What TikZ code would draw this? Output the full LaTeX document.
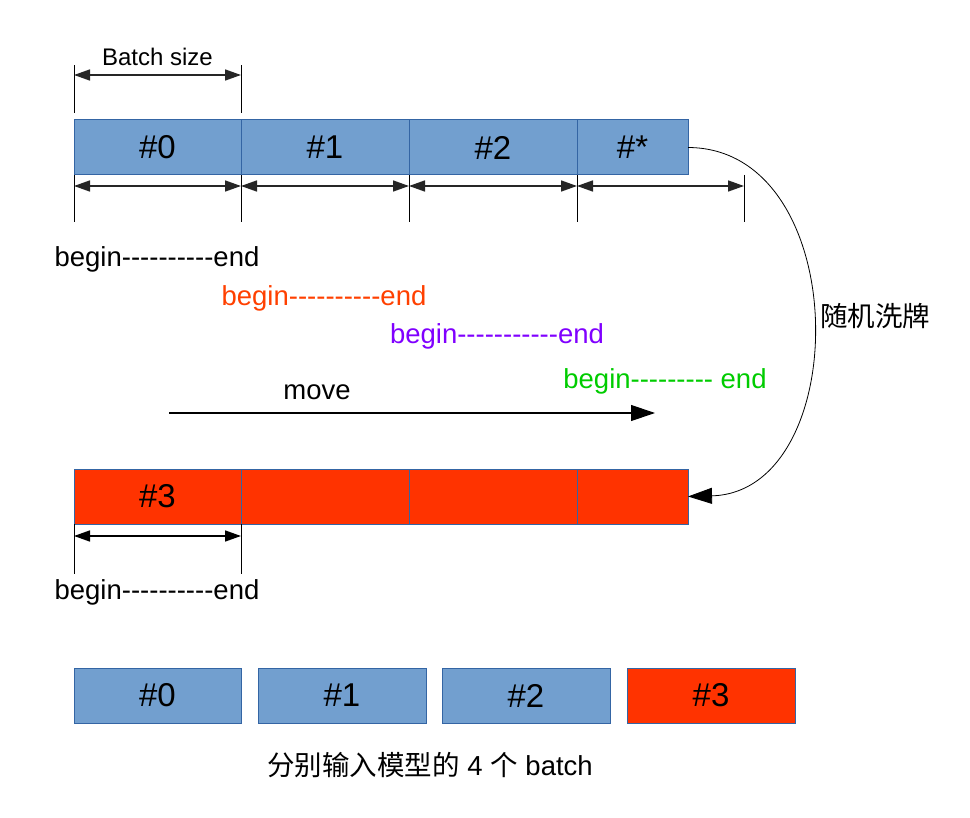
\documentclass[tikz,border=0pt]{standalone}
\usepackage{fontspec}
\setmainfont{Liberation Sans}
\newfontfamily\cjk{Noto Sans CJK SC}
\usetikzlibrary{arrows.meta}
\definecolor{segblue}{RGB}{114,159,207}
\definecolor{segedge}{RGB}{52,101,164}
\definecolor{segred}{RGB}{255,51,0}
\definecolor{txtred}{RGB}{255,64,0}
\definecolor{txtpurple}{RGB}{128,0,255}
\definecolor{txtgreen}{RGB}{0,204,0}
\newcommand{\bigtext}{\fontsize{33}{38}\selectfont}
\newcommand{\midtext}{\fontsize{27.5}{32}\selectfont}
\newcommand{\smalltext}{\fontsize{24}{28}\selectfont}
\newcommand{\hy}{-\kern0pt}% plain hyphen, no dash ligature
\newcommand{\tenhy}{\hy\hy\hy\hy\hy\hy\hy\hy\hy\hy}
\tikzset{
  seg/.style={draw=segedge,line width=1pt,inner sep=0pt,outer sep=0pt,minimum height=55pt,font=\bigtext},
  blueseg/.style={seg,fill=segblue},
  redseg/.style={seg,fill=segred},
  tick/.style={line width=1pt},
  dimarrow/.style={{Triangle[length=16pt,width=11pt]}-{Triangle[length=16pt,width=11pt]},line width=1.6pt,draw=black!85},
  bigarrow/.style={-{Triangle[length=24pt,width=16pt]}},
  rangetext/.style={font=\midtext,inner sep=0pt},
}

\begin{document}
\begin{tikzpicture}[x=1pt,y=-1pt]
\useasboundingbox (0,0) rectangle (970,818);

% Top row: batches of the data set
\node[blueseg,minimum width=167pt] (t0) at (157.5,147.5) {\#0};
\node[blueseg,minimum width=168pt] (t1) at (325,147.5) {\#1};
\node[blueseg,minimum width=168pt] (t2) at (493,147.5) {\#2};
\node[blueseg,minimum width=111pt] (t3) at (632.5,147.5) {\#*};

% Batch size
\draw[tick] (t0.north west) ++(0,-7) -- ++(0,-48);
\draw[tick] (t0.north east) ++(0,-7) -- ++(0,-48);
\coordinate (bs0) at (74,75);
\coordinate (bs1) at (241,75);
\draw[dimarrow] (bs0) -- (bs1);
\node[font=\smalltext,inner sep=0pt] (bsize) at (157.5,57) {Batch size};

% Ticks and sizes under the top row
\foreach \i in {0,...,3} \draw[tick] (t\i.south west) -- ++(0,47);
\coordinate (tend) at (744,175);
\draw[tick] (tend) -- ++(0,47);
\coordinate (d0) at (74,186);
\coordinate (d1) at (241,186);
\coordinate (d2) at (409,186);
\coordinate (d3) at (577,186);
\coordinate (d4) at (744,186);
\draw[dimarrow] (d0) -- (d1);
\draw[dimarrow] (d1) -- (d2);
\draw[dimarrow] (d2) -- (d3);
\draw[dimarrow] (d3) -- (d4);

% Ranges
\node[rangetext] (rg0) at (157,259) {begin\tenhy end};
\node[rangetext,text=txtred] (rg1) at (324,298) {begin\tenhy end};
\node[rangetext,text=txtpurple] (rg2) at (497,336) {begin\tenhy\hy end};
\node[rangetext,text=txtgreen] (rg3) at (665,381) {begin\hy\hy\hy\hy\hy\hy\hy\hy\hy{} end};

% Move
\coordinate (mv0) at (169,413);
\coordinate (mv1) at (655,413);
\draw[bigarrow,line width=1.2pt] (mv0) -- (mv1);
\node[rangetext] (movetxt) at (317,392) {move};

% Red row after shuffle
\node[redseg,minimum width=167pt] (r0) at (157.5,496.5) {\#3};
\node[redseg,minimum width=168pt] (r1) at (325,496.5) {};
\node[redseg,minimum width=168pt] (r2) at (493,496.5) {};
\node[redseg,minimum width=111pt] (r3) at (632.5,496.5) {};
\draw[tick] (r0.south west) -- ++(0,50);
\draw[tick] (r0.south east) -- ++(0,50);
\coordinate (e0) at (74,536);
\coordinate (e1) at (241,536);
\draw[dimarrow,draw=black] (e0) -- (e1);
\node[rangetext] (rg4) at (157,592) {begin\tenhy end};

% Shuffle
\draw[bigarrow,line width=0.8pt] (t3.east) .. controls (854,148) and (854,492) .. (r3.east);
\node[font=\midtext\cjk,inner sep=0pt] (shuf) at (875,316) {随机洗牌};

% Batches fed to the model
\node[blueseg,minimum width=167pt] (b0) at (157.5,695.5) {\#0};
\node[blueseg,minimum width=168pt] (b1) at (342,695.5) {\#1};
\node[blueseg,minimum width=168pt] (b2) at (526,695.5) {\#2};
\node[redseg,minimum width=168pt] (b3) at (711,695.5) {\#3};
\node[rangetext] (caption) at (430,765) {{\cjk 分别输入模型的} 4 {\cjk 个} batch};
\end{tikzpicture}
\end{document}
